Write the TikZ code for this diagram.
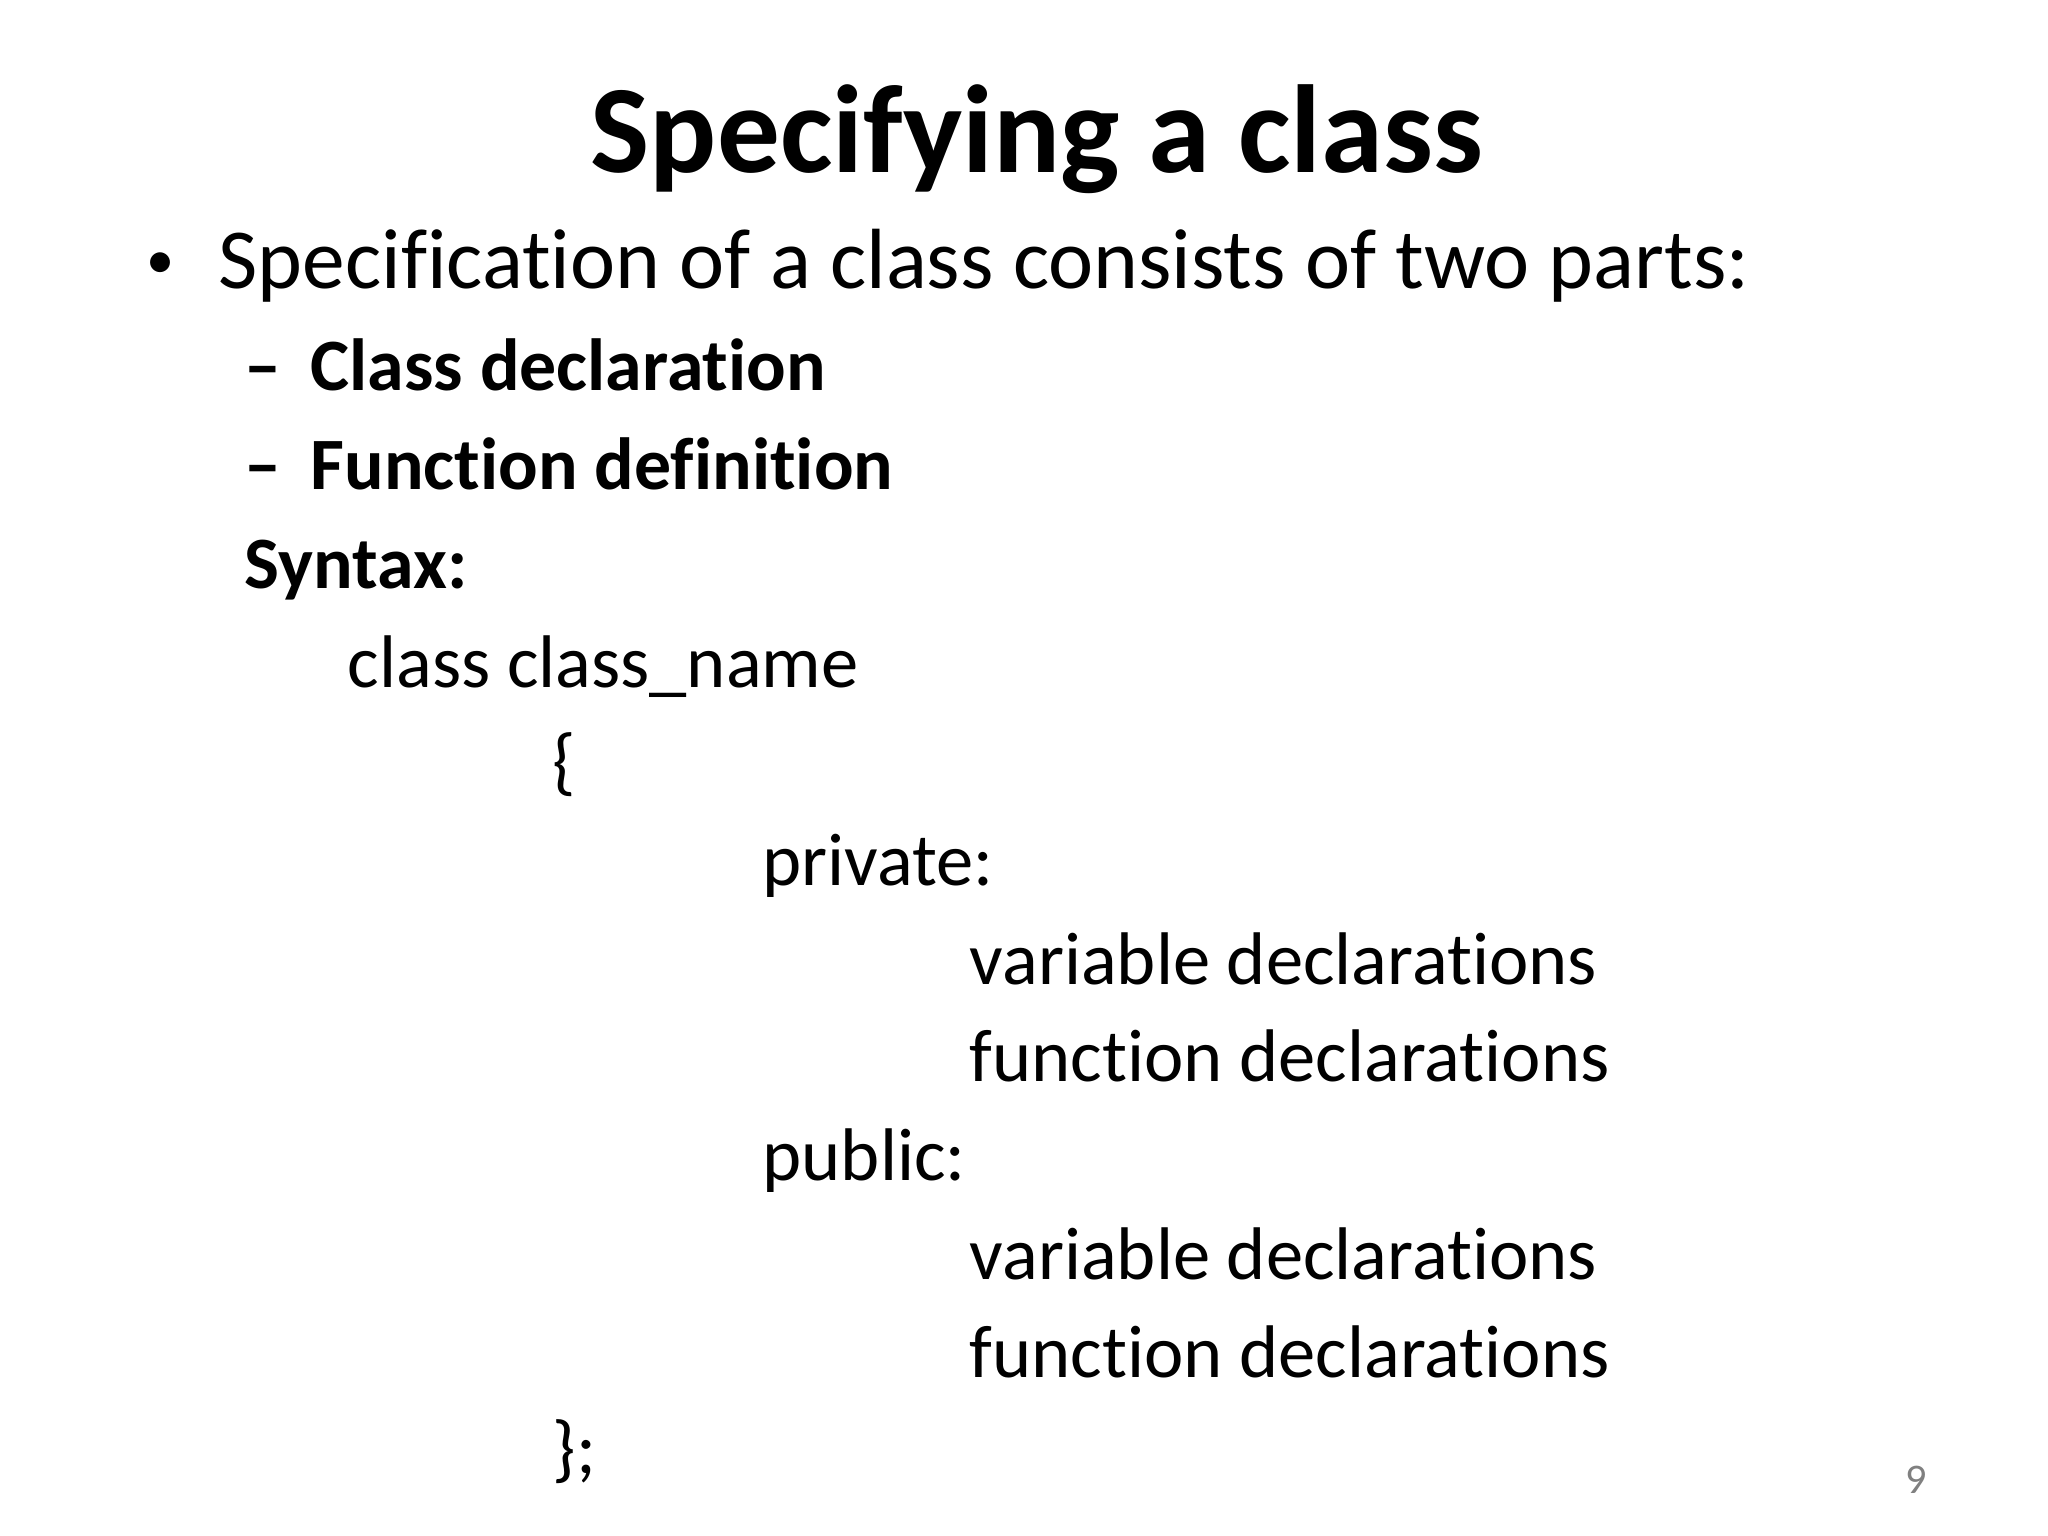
\documentclass[tikz,border=0pt]{standalone}
\usepackage{fontspec}
\setmainfont[Ligatures={NoCommon}]{Carlito}
\begin{document}
\begin{tikzpicture}[x=0.01cm,y=-0.01cm,
  txt/.style={anchor=base west,inner sep=0pt,font=\fontsize{24.3}{28}\selectfont},
  code/.style={anchor=base west,inner sep=0pt,font=\fontsize{21.2}{25}\selectfont},
  sub/.style={anchor=base west,inner sep=0pt,font=\fontsize{21}{25}\selectfont\bfseries}]
\useasboundingbox (0,0) rectangle (2048,1536);
\node[anchor=base,inner sep=0pt,font=\fontsize{35.6}{40}\selectfont\bfseries] (title) at (1037,172) {Specifying a class};
\node[anchor=base west,inner sep=0pt,font=\fontsize{20}{24}\selectfont] (bul) at (146,282) {\raisebox{0.1ex}{\scalebox{0.8}{•}}};
\node[txt] (l1) at (218,288) {Specification of a class consists of two parts:};
\node[sub] (d1) at (244,390) {–};
\node[sub] (l2) at (310,390) {Class declaration};
\node[sub] (d2) at (244,489) {–};
\node[sub] (l3) at (310,489) {Function definition};
\node[sub] (syn) at (244,588) {Syntax:};
\node[code] (c1) at (347,687) {class class\_name};
\node[code] (c2) at (552,786) {\{};
\node[code] (c3) at (762,885) {private:};
\node[code] (c4) at (969,984) {variable declarations};
\node[code] (c5) at (969,1081) {function declarations};
\node[code] (c6) at (762,1180) {public:};
\node[code] (c7) at (969,1279) {variable declarations};
\node[code] (c8) at (969,1377) {function declarations};
\node[code] (c9) at (552,1473) {\};};
\node[anchor=base,inner sep=0pt,font=\fontsize{12}{14}\selectfont,text=gray] (pg) at (1916,1493) {9};
\end{tikzpicture}
\end{document}
